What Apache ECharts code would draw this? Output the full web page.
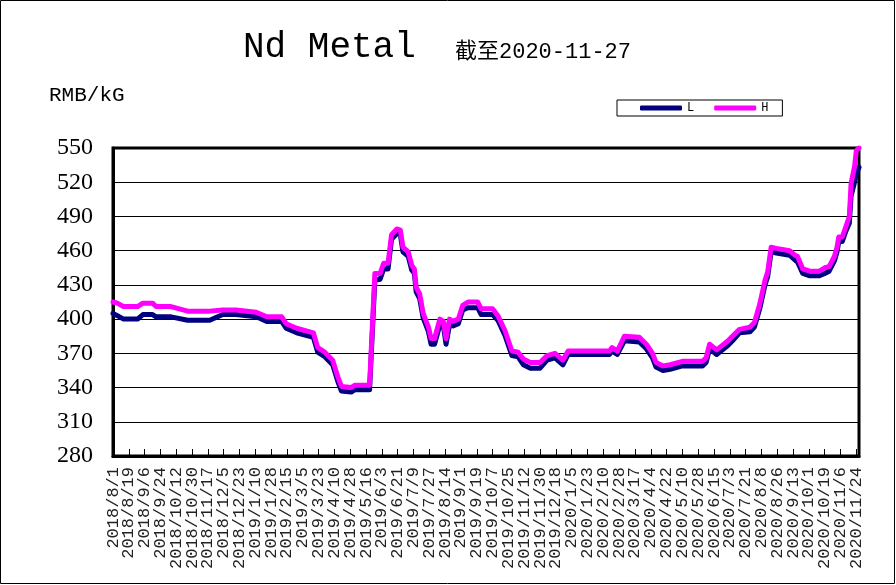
<!DOCTYPE html>
<html>
<head>
<meta charset="utf-8">
<script src="https://cdn.jsdelivr.net/npm/echarts@6/dist/echarts.min.js"></script>
<style>
html,body{margin:0;padding:0;background:#fff;}
#chart{width:896px;height:585px;}
</style>
</head>
<body>
<div id="chart"></div>
<script>
// ---- data ----
var startDate = '2018/8/1';
var endDate = '2020/11/27';
var labelStepDays = 18;
var yTicks = [280, 310, 340, 370, 400, 430, 460, 490, 520, 550];
var seriesNames = ['L', 'H'];

var pointDates = [
  '2018/8/1','2018/8/6','2018/8/13','2018/8/29','2018/9/4','2018/9/15','2018/9/19','2018/10/6',
  '2018/10/25','2018/11/19','2018/12/4','2018/12/19','2019/1/11','2019/1/23','2019/2/9','2019/2/14',
  '2019/2/26','2019/3/17','2019/3/22','2019/3/30','2019/4/8','2019/4/14','2019/4/18','2019/4/29',
  '2019/5/3','2019/5/20','2019/5/26','2019/6/1','2019/6/5','2019/6/10','2019/6/14','2019/6/20',
  '2019/6/24','2019/6/27','2019/7/3','2019/7/7','2019/7/10','2019/7/12','2019/7/16','2019/7/20',
  '2019/7/26','2019/7/29','2019/8/2','2019/8/8','2019/8/12','2019/8/15','2019/8/19','2019/8/23',
  '2019/8/29','2019/9/3','2019/9/9','2019/9/20','2019/9/24','2019/10/7','2019/10/13','2019/10/21',
  '2019/10/29','2019/11/5','2019/11/11','2019/11/19','2019/11/30','2019/12/8','2019/12/17','2019/12/26',
  '2020/1/1','2020/2/17','2020/2/20','2020/2/26','2020/3/5','2020/3/22','2020/3/30','2020/4/6',
  '2020/4/10','2020/4/18','2020/4/26','2020/5/10','2020/6/2','2020/6/6','2020/6/10','2020/6/18',
  '2020/7/1','2020/7/6','2020/7/14','2020/7/26','2020/7/31','2020/8/6','2020/8/12','2020/8/15',
  '2020/8/19','2020/8/25','2020/9/9','2020/9/15','2020/9/18','2020/9/24','2020/10/2','2020/10/13',
  '2020/10/19','2020/10/24','2020/10/30','2020/11/2','2020/11/4','2020/11/8','2020/11/12','2020/11/16',
  '2020/11/18','2020/11/22','2020/11/24','2020/11/27'
];
var hValues = [
  415,414,411,411,414,414,411,411,
  407,407,408,408,406,402,402,396,
  392,388,375,371,364,349,341,340,
  342,342,440,440,449,449,474,479,
  478,463,459,447,444,428,422,405,
  393,383,383,400,398,383,400,398,
  400,412,415,415,409,409,403,390,
  372,371,365,362,362,368,370,364,
  372,372,375,372,385,384,378,370,
  362,359,360,363,363,366,378,373,
  381,385,391,393,397,413,434,441,
  463,462,460,456,455,444,442,442,
  445,446,455,463,472,472,481,490,
  519,534,548,550
];
var lValues = [
  405,403,400,400,404,404,402,402,
  399,399,404,404,402,398,398,392,
  388,384,371,367,360,345,337,336,
  338,338,434,435,444,444,470,475,
  474,459,455,443,440,424,418,401,
  389,378,378,395,394,378,395,394,
  396,408,410,410,404,404,399,386,
  368,367,360,357,357,364,366,360,
  369,369,372,369,381,380,374,366,
  358,355,356,359,359,362,374,369,
  377,381,388,389,393,409,430,437,
  459,458,456,452,450,440,438,438,
  440,442,451,459,468,468,477,484,
  508,520,528,533
];

// ---- build category axis (every calendar day) ----
function fmt(d){ return d.getUTCFullYear() + '/' + (d.getUTCMonth()+1) + '/' + d.getUTCDate(); }
function parse(s){ var p = s.split('/'); return new Date(Date.UTC(+p[0], +p[1]-1, +p[2])); }
var categories = [];
for (var t = parse(startDate).getTime(); t <= parse(endDate).getTime(); t += 86400000) {
  categories.push(fmt(new Date(t)));
}
function pairs(vals){ return pointDates.map(function(d,i){ return [d, vals[i]]; }); }

var chart = echarts.init(document.getElementById('chart'), null, {renderer:'canvas'});
chart.setOption({
  animation: false,
  backgroundColor: '#fff',
  title: [
    {text: 'Nd Metal', left: 238, top: 24,
     textStyle: {fontFamily: 'Liberation Mono', fontSize: 36, fontWeight: 'normal', color: '#000'}},
    {text: '截至2020-11-27', left: 450, top: 36,
     textStyle: {fontFamily: 'Liberation Mono, "Noto Sans CJK SC"', fontSize: 22, fontWeight: 'normal', color: '#000'}},
    {text: 'RMB/kG', left: 44, top: 80,
     textStyle: {fontFamily: 'Liberation Mono', fontSize: 21, fontWeight: 'normal', color: '#000'}}
  ],
  legend: {
    left: 617, top: 100,
    data: seriesNames,
    icon: 'roundRect',
    itemWidth: 42, itemHeight: 5, itemGap: 20,
    padding: [2, 14, 2, 23],
    borderColor: '#000', borderWidth: 1,
    textStyle: {fontFamily: 'Liberation Mono', fontSize: 12, color: '#000'}
  },
  graphic: [
    {type: 'rect', shape: {x: 0.5, y: 0.5, width: 894, height: 583}, style: {fill: null, stroke: '#000', lineWidth: 1}, silent: true}
  ],
  grid: {left: 113, right: 37, top: 148, bottom: 129, show: true, borderColor: '#000', borderWidth: 3, backgroundColor: '#fff'},
  xAxis: {
    type: 'category',
    data: categories,
    boundaryGap: false,
    axisLine: {lineStyle: {color: '#000', width: 3}},
    axisTick: {interval: labelStepDays - 1, inside: true, length: 7, lineStyle: {color: '#000', width: 1}},
    axisLabel: {interval: 0, rotate: 90, margin: 11, fontFamily: 'Liberation Mono', fontSize: 17, color: '#222',
                hideOverlap: false,
                formatter: function(value, index){ return index % labelStepDays === 0 ? value : ''; }},
    splitLine: {show: false}
  },
  yAxis: {
    type: 'value',
    min: yTicks[0], max: yTicks[yTicks.length-1], interval: 30,
    axisLine: {show: true, lineStyle: {color: '#000', width: 3}},
    axisTick: {show: false},
    axisLabel: {margin: 20, fontFamily: 'Liberation Serif', fontSize: 24, color: '#000'},
    splitLine: {lineStyle: {color: '#000', width: 1}}
  },
  series: [
    {name: 'L', type: 'line', data: pairs(lValues), showSymbol: false, symbol: 'none',
     itemStyle: {color: '#000080'}, lineStyle: {color: '#000080', width: 5, join: 'round', cap: 'round'}},
    {name: 'H', type: 'line', data: pairs(hValues), showSymbol: false, symbol: 'none',
     itemStyle: {color: '#FF00FF'}, lineStyle: {color: '#FF00FF', width: 5, join: 'round', cap: 'round'}}
  ]
});
</script>
</body>
</html>
